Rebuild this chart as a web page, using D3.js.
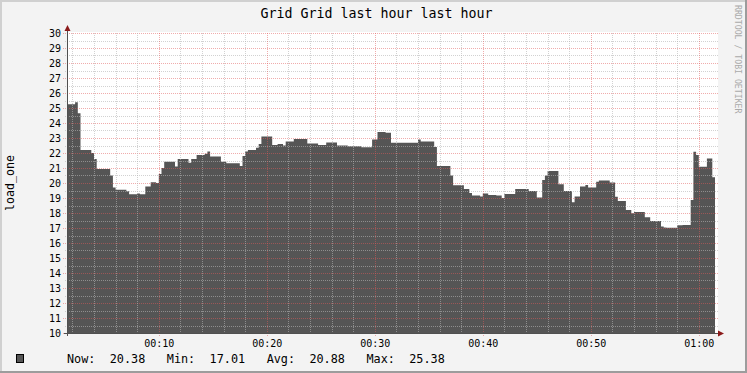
<!DOCTYPE html>
<html><head><meta charset="utf-8">
<script src="https://cdn.jsdelivr.net/npm/d3@7"></script>
<style>
html,body{margin:0;padding:0;background:#f3f3f3;}
svg{display:block;}
text{font-family:"DejaVu Sans Mono",monospace;}
</style></head>
<body>
<svg id="chart" width="747" height="373"></svg>
<script>
// ---- data ----
const title = "Grid Grid last hour last hour";
const yLabel = "load_one";
const credit = "RRDTOOL / TOBI OETIKER";
const startTime = "00:01:30";
const endTime = "01:01:30";
const times = ["00:01:30","00:02:15","00:02:30","00:02:45","00:03:45","00:04:00","00:04:15","00:05:30","00:05:45","00:06:00",
"00:07:00","00:07:15","00:08:00","00:08:15","00:08:45","00:09:15","00:09:45","00:10:00","00:10:15","00:10:30",
"00:11:30","00:11:45","00:12:45","00:13:00","00:13:30","00:14:15","00:14:30","00:14:45","00:15:45","00:16:15",
"00:17:30","00:17:45","00:18:00","00:18:15","00:19:00","00:19:15","00:19:30","00:20:30","00:21:00","00:21:30",
"00:21:45","00:22:30","00:23:45","00:24:45","00:25:30","00:26:30","00:27:30","00:28:45","00:29:45","00:30:15",
"00:31:00","00:31:30","00:34:00","00:34:15","00:35:30","00:35:45","00:37:00","00:37:15","00:38:15","00:38:45",
"00:39:00","00:39:45","00:40:00","00:40:30","00:41:15","00:41:45","00:42:00","00:43:00","00:44:15","00:45:00",
"00:45:30","00:45:45","00:46:00","00:47:00","00:47:30","00:48:15","00:48:30","00:49:00","00:49:30","00:49:45",
"00:50:30","00:50:45","00:51:45","00:52:15","00:52:30","00:53:15","00:53:45","00:54:00","00:55:00","00:55:30",
"00:56:30","00:56:45","00:57:00","00:58:00","00:58:30","00:59:15","00:59:30","00:59:45","01:00:00","01:00:45",
"01:01:15"];
const values = [25.25,25.38,24.65,22.2,22.0,21.6,20.93,20.5,19.7,19.55,
19.45,19.25,19.3,19.25,19.76,20.05,20.0,20.6,21.0,21.42,
21.1,21.6,21.35,21.6,21.87,21.95,22.1,21.76,21.42,21.31,
21.13,21.8,22.1,22.2,22.35,22.6,23.1,22.53,22.6,22.5,
22.76,22.93,22.64,22.53,22.7,22.5,22.45,22.38,22.9,23.4,
23.35,22.69,22.9,22.76,22.4,21.13,20.5,19.85,19.6,19.33,
19.16,19.1,19.3,19.2,19.16,19.0,19.27,19.6,19.47,19.04,
20.2,20.5,20.8,19.91,19.47,18.71,19.1,19.76,19.87,19.7,
20.09,20.16,20.04,19.09,18.8,18.2,17.98,18.07,17.71,17.47,
17.1,17.04,17.01,17.18,17.2,18.87,22.09,21.87,21.09,21.64,
20.38];
const yMin = 10, yMax = 30;
const yTicks = d3.range(10, 31, 1);
const yMinorTicks = d3.range(10.5, 30, 1);
const legendLabels = ["Now:", "Min:", "Avg:", "Max:"];
const legendValues = ["20.38", "17.01", "20.88", "25.38"];

// ---- layout ----
const W = 747, H = 373;
const L = 67, R = 715, T = 33, B = 333;
const svg = d3.select("#chart");
const parse = d3.timeParse("%H:%M:%S");
const data = times.map((t, i) => ({t: parse(t), v: values[i]}));
data.push({t: parse(endTime), v: values[values.length - 1]});

const x = d3.scaleTime().domain([parse(startTime), parse(endTime)]).range([L, R]);
const y = d3.scaleLinear().domain([yMin, yMax]).range([B, T]);

// background & borders
svg.append("rect").attr("x",0).attr("y",0).attr("width",W).attr("height",H).attr("fill","#f3f3f3");
svg.append("rect").attr("x",0).attr("y",0).attr("width",W).attr("height",2).attr("fill","#d0d0d0");
svg.append("rect").attr("x",0).attr("y",0).attr("width",2).attr("height",H).attr("fill","#d0d0d0");
svg.append("rect").attr("x",0).attr("y",H-2).attr("width",W).attr("height",2).attr("fill","#9c9c9c");
svg.append("rect").attr("x",W-2).attr("y",0).attr("width",2).attr("height",H).attr("fill","#9c9c9c");

// canvas
svg.append("rect").attr("x",L).attr("y",T-1).attr("width",718-L).attr("height",B-T+1).attr("fill","#ffffff");

// area
const area = d3.area().x(d => x(d.t)).y0(y(yMin)).y1(d => y(d.v)).curve(d3.curveStepAfter);
svg.append("path").datum(data).attr("d", area).attr("fill","#555555");

// grid
const g = svg.append("g").attr("shape-rendering","crispEdges");
const minorCol = "rgba(180,180,180,0.6)", majorCol = "rgba(225,90,90,0.5)";
yMinorTicks.forEach(v => {
  g.append("line").attr("x1",L-2).attr("x2",718).attr("y1",Math.round(y(v))+0.5).attr("y2",Math.round(y(v))+0.5)
   .attr("stroke",minorCol).attr("stroke-dasharray","1,1");
});
yTicks.forEach(v => {
  g.append("line").attr("x1",L-4).attr("x2",718).attr("y1",Math.round(y(v))+0.5).attr("y2",Math.round(y(v))+0.5)
   .attr("stroke",majorCol).attr("stroke-dasharray","1,1");
});
const minorX = x.ticks(d3.timeMinute.every(2)).filter(d => d.getMinutes() % 10 !== 0);
const majorX = x.ticks(d3.timeMinute.every(10));
minorX.forEach(d => {
  g.append("line").attr("x1",Math.round(x(d))+0.5).attr("x2",Math.round(x(d))+0.5).attr("y1",T).attr("y2",B+2)
   .attr("stroke",minorCol).attr("stroke-dasharray","1,1");
});
majorX.forEach(d => {
  g.append("line").attr("x1",Math.round(x(d))+0.5).attr("x2",Math.round(x(d))+0.5).attr("y1",T).attr("y2",B+4)
   .attr("stroke",majorCol).attr("stroke-dasharray","1,1");
});

// axes
const ax = svg.append("g").attr("shape-rendering","crispEdges");
ax.append("line").attr("x1",L+0.5).attr("x2",L+0.5).attr("y1",29).attr("y2",B+3).attr("stroke","#505050");
ax.append("line").attr("x1",L-3).attr("x2",720).attr("y1",B+0.5).attr("y2",B+0.5).attr("stroke","#505050");
svg.append("path").attr("d",`M${L-2.5},${31} L${L+3.5},${31} L${L+0.5},${25} Z`).attr("fill","#8b1a1a");
svg.append("path").attr("d",`M${718},${B-2.5} L${718},${B+3.5} L${724},${B+0.5} Z`).attr("fill","#8b1a1a");

// y labels
svg.append("g").selectAll("text").data(yTicks).join("text")
  .attr("x", 61).attr("y", d => y(d) + 3.5).attr("text-anchor","end")
  .attr("font-size","10px").attr("fill","#000").text(d => d);

// x labels
const fmt = d3.timeFormat("%H:%M");
svg.append("g").selectAll("text").data(majorX).join("text")
  .attr("x", d => x(d) + 0.5).attr("y", 347).attr("text-anchor","middle")
  .attr("font-size","10px").attr("fill","#000").text(d => fmt(d));

// title
svg.append("text").attr("x",376.5).attr("y",18).attr("text-anchor","middle")
  .attr("font-size","13.3px").attr("fill","#000").text(title);

// y axis label
svg.append("text").attr("transform","translate(14,183) rotate(-90)").attr("text-anchor","middle")
  .attr("font-size","11.6px").attr("fill","#000").text(yLabel);

// credit
svg.append("text").attr("transform","translate(735,5) rotate(90)").attr("text-anchor","start")
  .attr("font-size","8.2px").attr("fill","#aaaaaa").text(credit);

// legend
svg.append("rect").attr("x",16.5).attr("y",354.5).attr("width",7).attr("height",8)
  .attr("fill","#555555").attr("stroke","#000").attr("stroke-width",1);
const cw = 7.13;
legendLabels.forEach((lab, i) => {
  const x0 = 67 + i * 14 * cw;
  svg.append("text").attr("x", x0).attr("y", 363).attr("font-size","11.8px").attr("fill","#000").text(lab);
  svg.append("text").attr("x", x0 + 6 * cw).attr("y", 363).attr("font-size","11.8px").attr("fill","#000").text(legendValues[i]);
});
</script>
</body></html>
